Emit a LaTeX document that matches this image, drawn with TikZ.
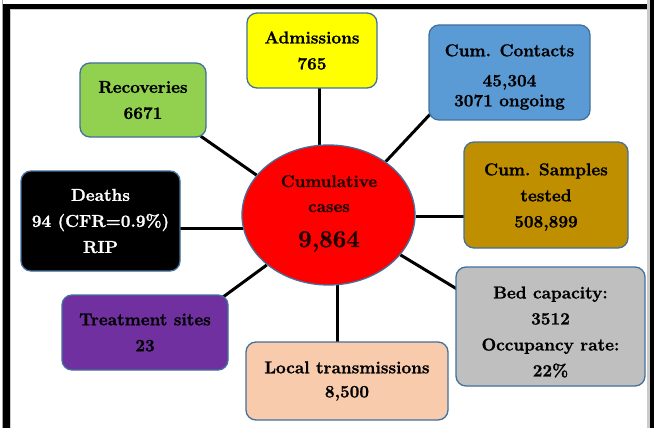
\documentclass[tikz,border=0pt]{standalone}
\usepackage{fontspec}
\setmainfont{Latin Modern Roman}[BoldFeatures={FakeBold=1.3}]
\usetikzlibrary{shapes.geometric,calc}
\pgfdeclarelayer{bg}
\pgfsetlayers{bg,main}
\definecolor{bordc}{HTML}{41719C}
\definecolor{admc}{HTML}{FFFF00}
\definecolor{conc}{HTML}{5B9BD5}
\definecolor{recc}{HTML}{92D050}
\definecolor{deac}{HTML}{000000}
\definecolor{samc}{HTML}{BF8F00}
\definecolor{trec}{HTML}{7030A0}
\definecolor{locc}{HTML}{F8CBAD}
\definecolor{bedc}{HTML}{BFBFBF}
\definecolor{cumc}{HTML}{FF0000}
\definecolor{cumtext}{HTML}{1E0000}
\definecolor{framegray}{HTML}{A6A6A6}
\begin{document}
\begin{tikzpicture}[x=1pt,y=-1pt,
  box/.style={draw=bordc, line width=1.3pt, rounded corners=10pt, align=center,
    inner sep=0pt, font=\fontsize{17.2}{26}\selectfont\bfseries},
  boxtext/.style={align=center, inner sep=0pt, font=\fontsize{17.2}{26}\selectfont\bfseries},
  link/.style={line width=3pt, draw=black},
  cumline/.style={anchor=base, inner sep=0pt, text=cumtext,
    font=\fontsize{17}{20}\selectfont\bfseries}]
\useasboundingbox (0,0) rectangle (654,428);
\begin{pgfonlayer}{bg}
\fill[white] (0,0) rectangle (654,428);
\end{pgfonlayer}
% frame
\fill[framegray] (1.5,0) rectangle (3,428);
\fill[black] (3,4) rectangle (10,428);
\fill[black] (3,4) rectangle (650,9);
\fill[framegray!60] (10,9) rectangle (11,428);
\fill[framegray!60] (10,9) rectangle (648,10);
\fill[framegray!60] (647,0) rectangle (650,428);
\fill[black] (650,0) rectangle (654,428);
% central ellipse
\node[ellipse, draw=bordc, line width=1.3pt, fill=cumc, minimum width=173pt,
  minimum height=140pt, inner sep=0pt] (cum) at (328.5,215) {};
\node[cumline] (cumA) at (329,187) {Cumulative};
\node[cumline] (cumB) at (329,212) {cases};
\node[cumline, font=\fontsize{24}{24}\selectfont\bfseries] (cumC) at (329,247) {9,864};
% boxes
\node[box, fill=admc, minimum width=130pt, minimum height=75pt] (adm) at (312,50.5) {Admissions\\765};
\node[box, fill=conc, minimum width=161pt, minimum height=95pt] (con) at (509.5,72.5) {};
\node[boxtext, font=\fontsize{17.2}{20}\selectfont\bfseries] (contxt) at (509.5,77) {Cum. Contacts\\[10pt]45,304\\3071 ongoing};
\node[box, fill=recc, minimum width=126pt, minimum height=74pt] (rec) at (143,100) {Recoveries\\6671};
\node[box, fill=deac, text=white, minimum width=159pt, minimum height=100pt] (dea) at (100.5,221) {Deaths\\94 (CFR=0.9\%)\\RIP};
\node[box, fill=samc, minimum width=164pt, minimum height=106pt] (sam) at (546,195) {};
\node[boxtext] (samtxt) at (546,197) {Cum. Samples\\tested\\508,899};
\node[box, fill=trec, minimum width=166pt, minimum height=75pt] (tre) at (145,332.5) {Treatment sites\\23};
\node[box, fill=locc, minimum width=202pt, minimum height=78pt,
  font=\fontsize{17.2}{24}\selectfont\bfseries] (loc) at (347,381) {Local transmissions\\8,500};
\node[box, fill=bedc, minimum width=189pt, minimum height=119pt] (bed) at (550.5,326.5) {};
\node[boxtext] (bedtxt) at (550.5,332) {Bed capacity:\\3512\\Occupancy rate:\\22\%};
% connectors
\begin{pgfonlayer}{bg}
\draw[link] (cum.97) -- (cum.97 |- adm.center);
\draw[link] (cum.43) -- ($(con.south west)+(7,-12)$);
\draw[link] (cum.151) -- ($(rec.south east)+(-6,-1.5)$);
\draw[link] (cum.189) -- (cum.189 -| dea.center);
\draw[link] (cum.-1.3) -- (cum.-1.3 -| sam.center);
\draw[link] (cum.-29.2) -- ($(bed.158.7)+(5,3)$);
\draw[link] (cum.-83) -- (cum.-83 |- loc.center);
\draw[link] (cum.219) -- ($(tre.north east)+(-8,4.4)$);
\end{pgfonlayer}
\end{tikzpicture}
\end{document}
